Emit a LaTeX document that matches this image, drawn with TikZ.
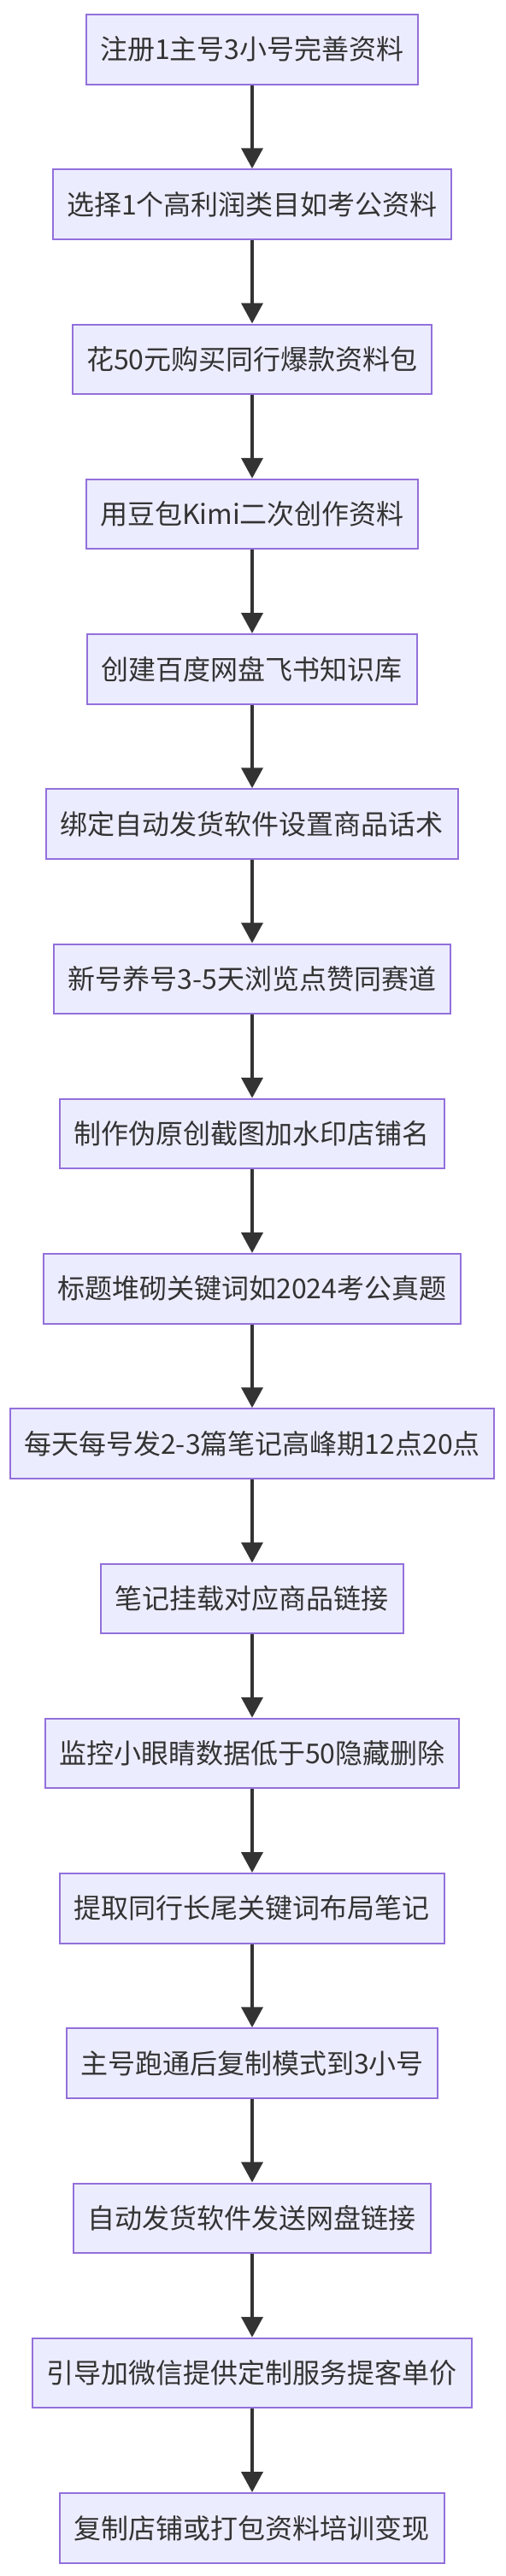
\documentclass[tikz,border=0pt]{standalone}
\usepackage{fontspec}
\setmainfont{Noto Sans CJK SC}
\usetikzlibrary{arrows.meta}
\definecolor{stepfill}{RGB}{236,236,255}
\definecolor{stepline}{RGB}{147,112,219}
\definecolor{arrowcol}{RGB}{51,51,51}

\tikzset{
  stepbox/.style={draw=stepline, line width=1pt, fill=stepfill, text=arrowcol,
    inner xsep=8.25pt, inner ysep=0pt, minimum height=40.75pt,
    font=\fontsize{16pt}{19pt}\selectfont},
  flow/.style={draw=arrowcol, line width=2pt,
    -{Triangle[width=12.5pt,length=12pt]}}
}

\begin{document}
\begin{tikzpicture}[y=90.625pt]
      \useasboundingbox (-147.5pt,28.875pt) rectangle (148.5pt,-1478.125pt);
      \begin{scope}
        \node[stepbox] (zhuce)   at (0,0)   {注册1主号3小号完善资料};
        \node[stepbox] (xuanze)  at (0,-1)  {选择1个高利润类目如考公资料};
        \node[stepbox] (goumai)  at (0,-2)  {花50元购买同行爆款资料包};
        \node[stepbox] (chuangzuo) at (0,-3) {用豆包Kimi二次创作资料};
        \node[stepbox] (wangpan) at (0,-4)  {创建百度网盘飞书知识库};
        \node[stepbox] (bangding) at (0,-5) {绑定自动发货软件设置商品话术};
        \node[stepbox] (yanghao) at (0,-6)  {新号养号3-5天浏览点赞同赛道};
        \node[stepbox] (jietu)   at (0,-7)  {制作伪原创截图加水印店铺名};
        \node[stepbox] (biaoti)  at (0,-8)  {标题堆砌关键词如2024考公真题};
        \node[stepbox] (fabu)    at (0,-9)  {每天每号发2-3篇笔记高峰期12点20点};
        \node[stepbox] (guazai)  at (0,-10) {笔记挂载对应商品链接};
        \node[stepbox] (jiankong) at (0,-11) {监控小眼睛数据低于50隐藏删除};
        \node[stepbox] (tiqu)    at (0,-12) {提取同行长尾关键词布局笔记};
        \node[stepbox] (fuzhi)   at (0,-13) {主号跑通后复制模式到3小号};
        \node[stepbox] (fahuo)   at (0,-14) {自动发货软件发送网盘链接};
        \node[stepbox] (yindao)  at (0,-15) {引导加微信提供定制服务提客单价};
        \node[stepbox] (bianxian) at (0,-16) {复制店铺或打包资料培训变现};
      \end{scope}
      \draw[flow] (zhuce) -- (xuanze);
      \draw[flow] (xuanze) -- (goumai);
      \draw[flow] (goumai) -- (chuangzuo);
      \draw[flow] (chuangzuo) -- (wangpan);
      \draw[flow] (wangpan) -- (bangding);
      \draw[flow] (bangding) -- (yanghao);
      \draw[flow] (yanghao) -- (jietu);
      \draw[flow] (jietu) -- (biaoti);
      \draw[flow] (biaoti) -- (fabu);
      \draw[flow] (fabu) -- (guazai);
      \draw[flow] (guazai) -- (jiankong);
      \draw[flow] (jiankong) -- (tiqu);
      \draw[flow] (tiqu) -- (fuzhi);
      \draw[flow] (fuzhi) -- (fahuo);
      \draw[flow] (fahuo) -- (yindao);
      \draw[flow] (yindao) -- (bianxian);
\end{tikzpicture}
\end{document}
